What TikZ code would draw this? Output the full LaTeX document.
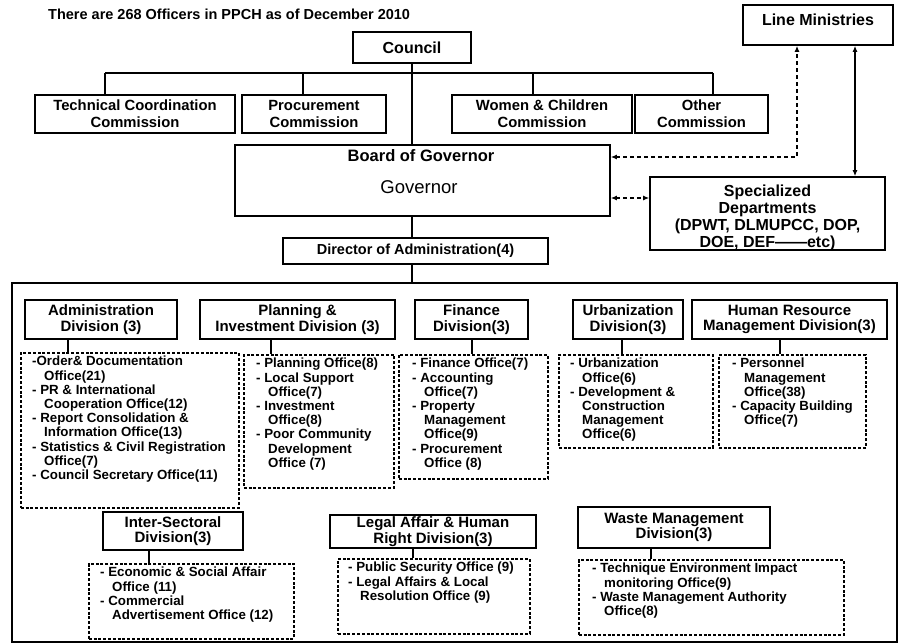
\documentclass[tikz,border=0pt]{standalone}
\usepackage{fontspec}
\setmainfont{Liberation Sans}
\usetikzlibrary{arrows.meta,calc}
\newcommand\ind{\hspace*{12pt}}
\begin{document}
\begin{tikzpicture}[x=1pt,y=-1pt,
  box/.style={draw, line width=1.6pt, inner sep=0pt, align=center, font=\bfseries\fontsize{14.8}{17}\selectfont},
  divbox/.style={box, font=\bfseries\fontsize{15}{15.5}\selectfont},
  dbox/.style={draw, line width=1.6pt, dash pattern=on 3pt off 1.8pt, inner sep=0pt, anchor=north west},
  otext/.style={align=left, inner sep=0pt, anchor=north west, font=\bfseries\fontsize{13.3}{14.2}\selectfont},
  link/.style={line width=1.4pt},
  arr/.style={line width=1.4pt, {Latex[length=6pt,width=5pt]}-{Latex[length=6pt,width=5pt]}},
  dashline/.style={dash pattern=on 4pt off 3pt},
]
\useasboundingbox (0,0) rectangle (901,644);
\fill[white] (0,0) rectangle (901,644);

\node[anchor=base west, inner sep=0pt, font=\bfseries\fontsize{14.5}{17}\selectfont] (title) at (48,19.5) {There are 268 Officers in PPCH as of December 2010};

% top level
\node[box, minimum width=118pt, minimum height=31pt, font=\bfseries\fontsize{16}{18}\selectfont] (council) at (412,47.5) {Council};
\node[box, minimum width=200pt, minimum height=38pt] (tcc) at (135,114) {Technical Coordination\\Commission};
\node[box, minimum width=144pt, minimum height=38pt] (pc) at (314,114) {Procurement\\Commission};
\node[box, minimum width=180pt, minimum height=38pt] (wcc) at (542,114) {Women \& Children\\Commission};
\node[box, minimum width=133pt, minimum height=38pt] (oc) at (701.5,114) {Other\\Commission};
\node[box, minimum width=150pt, minimum height=40pt, text depth=11.5pt, font=\bfseries\fontsize{16}{18}\selectfont] (lm) at (818,25) {Line Ministries};

\node[box, minimum width=375pt, minimum height=71pt] (board) at (422.5,180.5) {};
\node[anchor=base, inner sep=0pt, font=\bfseries\fontsize{16.5}{18}\selectfont] (bog) at (421,162) {Board of Governor};
\node[anchor=base, inner sep=0pt, font=\fontsize{18.5}{20}\selectfont] (gov) at (419,194) {Governor};

\node[box, minimum width=235pt, minimum height=73pt] (spec) at (767.5,213.5) {};
\node[align=center, inner sep=0pt, font=\bfseries\fontsize{16}{16.8}\selectfont] (spect) at (767.5,218) {Specialized\\Departments\\(DPWT, DLMUPCC, DOP,\\DOE, DEF——etc)};

\node[box, minimum width=265pt, minimum height=26pt, font=\bfseries\fontsize{14.5}{17}\selectfont] (dir) at (415.5,251) {Director of Administration(4)};

% connectors top
\coordinate (busl) at (105,73);
\coordinate (busr) at (713,73);
\coordinate (b2) at (303,73);
\coordinate (b3) at (533,73);
\coordinate (vx) at (412,0);
\draw[link] (busl) -- (busr);
\draw[link] (council.south) -- (council.south |- board.north);
\draw[link] (busl) -- (busl |- tcc.north);
\draw[link] (b2) -- (b2 |- pc.north);
\draw[link] (b3) -- (b3 |- wcc.north);
\draw[link] (busr) -- (busr |- oc.north);
\draw[link] (vx |- board.south) -- (vx |- dir.north);

\coordinate (dc) at (797,157);
\draw[arr, dashline] (board.east |- dc) -- (dc) -- (dc |- lm.south);
\coordinate (sx) at (855,0);
\draw[arr] (sx |- lm.south) -- (sx |- spec.north);
\coordinate (hy) at (0,198);
\draw[arr, dashline] (board.east |- hy) -- (spec.west |- hy);

% container
\draw[line width=1.8pt] (12,283) rectangle (897,642);
\coordinate (ctop) at (412,283);
\draw[link] (vx |- dir.south) -- (ctop);

% divisions
\node[divbox, minimum width=152pt, minimum height=39pt] (adm) at (101,319.5) {Administration\\Division (3)};
\node[divbox, minimum width=195pt, minimum height=39pt] (pla) at (297.5,319.5) {Planning \&\\Investment Division (3)};
\node[divbox, minimum width=113pt, minimum height=39pt] (fin) at (471.5,319.5) {Finance\\Division(3)};
\node[divbox, minimum width=110pt, minimum height=39pt] (urb) at (628,319.5) {Urbanization\\Division(3)};
\node[divbox, minimum width=195pt, minimum height=39pt] (hrm) at (789.5,319.5) {Human Resource\\Management Division(3)};
\node[divbox, minimum width=140pt, minimum height=38pt] (ins) at (173,531) {Inter-Sectoral\\Division(3)};
\node[divbox, minimum width=206pt, minimum height=33pt] (leg) at (433,531.5) {Legal Affair \& Human\\Right Division(3)};
\node[divbox, minimum width=192pt, minimum height=41pt] (wst) at (674,527.5) {Waste Management\\Division(3)};

% office boxes
\node[dbox, minimum width=218pt, minimum height=155pt] (admo) at (20,352) {};
\node[dbox, minimum width=150pt, minimum height=133pt] (plao) at (243,354) {};
\node[dbox, minimum width=149pt, minimum height=124pt] (fino) at (398,354) {};
\node[dbox, minimum width=154pt, minimum height=93pt] (urbo) at (558,354) {};
\node[dbox, minimum width=147pt, minimum height=93pt] (hrmo) at (718,354) {};
\node[dbox, minimum width=205pt, minimum height=75pt] (inso) at (88,563) {};
\node[dbox, minimum width=192pt, minimum height=75pt] (lego) at (337,558) {};
\node[dbox, minimum width=265pt, minimum height=75pt] (wsto) at (578,559) {};

% ticks
\coordinate (t1) at (68,0);  \draw[link] (t1 |- adm.south) -- (t1 |- admo.north);
\coordinate (t2) at (271,0); \draw[link] (t2 |- pla.south) -- (t2 |- plao.north);
\coordinate (t3) at (472,0); \draw[link] (t3 |- fin.south) -- (t3 |- fino.north);
\coordinate (t4) at (622,0); \draw[link] (t4 |- urb.south) -- (t4 |- urbo.north);
\coordinate (t5) at (780,0); \draw[link] (t5 |- hrm.south) -- (t5 |- hrmo.north);
\coordinate (t6) at (149,0); \draw[link] (t6 |- ins.south) -- (t6 |- inso.north);
\coordinate (t7) at (413,0); \draw[link] (t7 |- leg.south) -- (t7 |- lego.north);
\coordinate (t8) at (651,0); \draw[link] (t8 |- wst.south) -- (t8 |- wsto.north);

% office texts
\node[otext] (admt) at ($(admo.north west)+(12,4)$) {-Order\& Documentation\\\ind Office(21)\\- PR \& International\\\ind Cooperation Office(12)\\- Report Consolidation \&\\\ind Information Office(13)\\- Statistics \& Civil Registration\\\ind Office(7)\\- Council Secretary Office(11)};
\node[otext] (plat) at ($(plao.north west)+(13,4)$) {- Planning Office(8)\\- Local Support\\\ind Office(7)\\- Investment\\\ind Office(8)\\- Poor Community\\\ind Development\\\ind Office (7)};
\node[otext] (fint) at ($(fino.north west)+(14,4)$) {- Finance Office(7)\\- Accounting\\\ind Office(7)\\- Property\\\ind Management\\\ind Office(9)\\- Procurement\\\ind Office (8)};
\node[otext] (urbt) at ($(urbo.north west)+(12,4)$) {- Urbanization\\\ind Office(6)\\- Development \&\\\ind Construction\\\ind Management\\\ind Office(6)};
\node[otext] (hrmt) at ($(hrmo.north west)+(14,4)$) {- Personnel\\\ind Management\\\ind Office(38)\\- Capacity Building\\\ind Office(7)};
\node[otext] (inst) at ($(inso.north west)+(12,4)$) {- Economic \& Social Affair\\\ind Office (11)\\- Commercial\\\ind Advertisement Office (12)};
\node[otext] (legt) at ($(lego.north west)+(11,4)$) {- Public Security Office (9)\\- Legal Affairs \& Local\\\ind Resolution Office (9)};
\node[otext] (wstt) at ($(wsto.north west)+(14,4)$) {- Technique Environment Impact\\\ind monitoring Office(9)\\- Waste Management Authority\\\ind Office(8)};
\end{tikzpicture}
\end{document}
